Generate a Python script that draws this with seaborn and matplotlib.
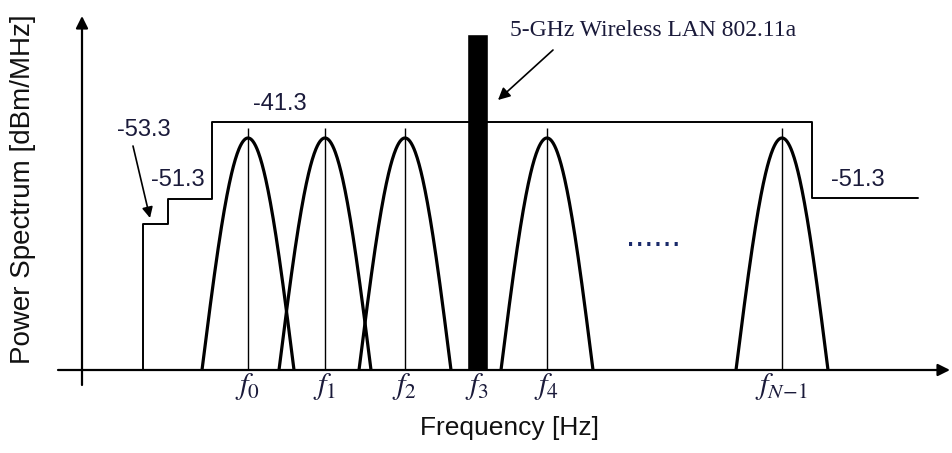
import numpy as np
import pandas as pd
import matplotlib
matplotlib.use("Agg")
import matplotlib.pyplot as plt
import seaborn as sns

sns.set_theme(style="white")
plt.rcParams['font.family'] = ['Liberation Sans', 'DejaVu Sans']
plt.rcParams['mathtext.fontset'] = 'stix'

# ---- schematic data (arbitrary frequency / level units) ----
channel_centers = [248, 325, 405, 547, 782]
channel_labels = [r'$f_0$', r'$f_1$', r'$f_2$', r'$f_4$', r'$f_{N\!-\!1}$']
lan_center = 477
lan_label = r'$f_3$'
lan_height = 336
lan_width = 21
peak_height = 232
center_line_height = 242
half_width = 46
mask_x = [143, 143, 168, 168, 212, 212, 812, 812, 918]
mask_y = [0, 146, 146, 171, 171, 248, 248, 172, 172]
mask_texts = ['-53.3', '-51.3', '-41.3', '-51.3']
lan_text = '5-GHz Wireless LAN 802.11a'

# ---- build curves ----
rows = []
for i, c in enumerate(channel_centers):
    xs = np.linspace(c - half_width, c + half_width, 200)
    ys = peak_height * np.cos(np.pi / 2 * (xs - c) / half_width)
    rows.append(pd.DataFrame({'f': xs, 'p': np.clip(ys, 0, None), 'ch': i}))
curves = pd.concat(rows, ignore_index=True)
mask = pd.DataFrame({'f': mask_x, 'p': mask_y})

fig = plt.figure(figsize=(9.52, 4.53), dpi=100)
ax = fig.add_axes([0, 83 / 453, 1, 370 / 453])
ax.set_xlim(0, 952)
ax.set_ylim(0, 370)
for s in ax.spines.values():
    s.set_visible(False)

sns.lineplot(data=curves, x='f', y='p', units='ch', estimator=None,
             color='black', lw=2.3, ax=ax, legend=False)
sns.lineplot(data=mask, x='f', y='p', estimator=None, sort=False,
             color='black', lw=1.4, ax=ax, legend=False)
ax.vlines(channel_centers, 0, center_line_height, color='black', lw=1.0)
ax.bar([lan_center], [lan_height], width=lan_width, color='black')

# axes with arrows
ax.annotate('', xy=(82, 354), xytext=(82, -15),
            arrowprops=dict(arrowstyle='-|>', color='black', lw=1.6,
                            mutation_scale=18, shrinkA=0, shrinkB=0),
            annotation_clip=False)
ax.annotate('', xy=(950, 0), xytext=(58, 0),
            arrowprops=dict(arrowstyle='-|>', color='black', lw=1.6,
                            mutation_scale=18, shrinkA=0, shrinkB=0),
            annotation_clip=False)

# ticks
ax.set_xticks(channel_centers + [lan_center])
ax.set_xticklabels(channel_labels + [lan_label], fontsize=22, color='#1a1a3a')
ax.tick_params(axis='x', length=0, pad=1)
ax.set_yticks([])

ax.set_xlabel('Frequency [Hz]', fontsize=19, color='#111111')
ax.xaxis.set_label_coords(510 / 952, -0.125)
ax.set_ylabel('Power Spectrum [dBm/MHz]', fontsize=20, color='#111111')
ax.yaxis.set_label_coords(36 / 952, 0.49)

tc = '#1a1a3a'
ax.text(144, 240, mask_texts[0], fontsize=17, ha='center', va='center', color=tc)
ax.text(178, 190, mask_texts[1], fontsize=17, ha='center', va='center', color=tc)
ax.text(280, 266, mask_texts[2], fontsize=17, ha='center', va='center', color=tc)
ax.text(858, 190, mask_texts[3], fontsize=17, ha='center', va='center', color=tc)
ax.annotate('', xy=(150, 152), xytext=(133, 224),
            arrowprops=dict(arrowstyle='-|>', color='black', lw=1.2,
                            mutation_scale=16, shrinkA=0, shrinkB=0))

ax.text(510, 340, lan_text, fontsize=17, ha='left', va='center', color=tc,
        family=['Liberation Serif', 'DejaVu Serif'])
ax.annotate('', xy=(498, 270), xytext=(553, 320),
            arrowprops=dict(arrowstyle='-|>', color='black', lw=1.2,
                            mutation_scale=18, shrinkA=0, shrinkB=0))

ax.text(653, 132, '......', fontsize=24, ha='center', va='center', color='#1a2a6a')

fig.savefig('out.png', dpi=100)
